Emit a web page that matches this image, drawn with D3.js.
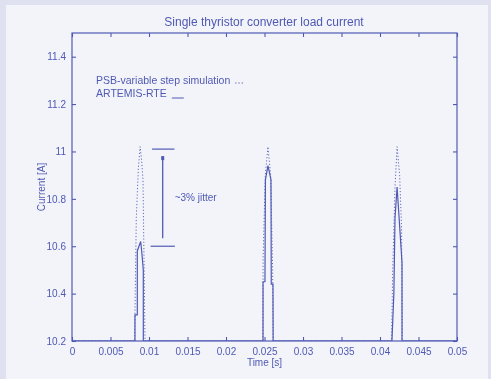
<!DOCTYPE html>
<html>
<head>
<meta charset="utf-8">
<script src="https://cdn.jsdelivr.net/npm/d3@7"></script>
<style>
  html, body { margin: 0; padding: 0; background: #dfe1f0; }
  svg { display: block; }
  text { font-family: "Liberation Sans", Arial, sans-serif; fill: #4f59b3; }
</style>
</head>
<body>
<svg id="chart" width="491" height="379"></svg>
<script>
// Load current of a single thyristor converter: three conduction pulses
const title = "Single thyristor converter load current";
const xLabel = "Time [s]";
const yLabel = "Current [A]";
const xTicks = [0, 0.005, 0.01, 0.015, 0.02, 0.025, 0.03, 0.035, 0.04, 0.045, 0.05];
const xTickLabels = ["0", "0.005", "0.01", "0.015", "0.02", "0.025", "0.03", "0.035", "0.04", "0.045", "0.05"];
const yTicks = [10.2, 10.4, 10.6, 10.8, 11, 11.2, 11.4];
const yTickLabels = ["10.2", "10.4", "10.6", "10.8", "11", "11.2", "11.4"];

// PSB variable-step simulation (dotted)
const psbTime = [0, 0.00812, 0.00818, 0.00835, 0.00862, 0.00885, 0.00905, 0.00922, 0.00935, 0.00948,
                 0.02478, 0.02482, 0.02510, 0.02545, 0.02580, 0.02606, 0.02612,
                 0.04150, 0.04165, 0.04195, 0.04222, 0.04255, 0.04280, 0.04288, 0.05];
const psbCurrent = [10.2, 10.2, 10.32, 10.72, 10.93, 11.02, 10.96, 10.88, 10.55, 10.2,
                    10.2, 10.55, 10.9, 11.02, 10.9, 10.5, 10.2,
                    10.2, 10.5, 10.85, 11.02, 10.9, 10.68, 10.2, 10.2];

// ARTEMIS-RTE real-time simulation (solid)
const rteTime = [0, 0.00818, 0.00818, 0.00848, 0.00848, 0.00892, 0.00905, 0.00926, 0.00926, 0.00930,
                 0.02481, 0.02481, 0.02506, 0.02512, 0.02545, 0.02584, 0.02588, 0.02610, 0.02612,
                 0.04155, 0.04180, 0.04195, 0.04222, 0.04286, 0.04286, 0.04290, 0.05];
const rteCurrent = [10.2, 10.2, 10.31, 10.31, 10.58, 10.62, 10.58, 10.5, 10.2, 10.2,
                    10.2, 10.45, 10.45, 10.88, 10.94, 10.88, 10.44, 10.44, 10.2,
                    10.2, 10.4, 10.72, 10.85, 10.53, 10.2, 10.2, 10.2];

// Annotation: spread between the two peaks of the first pulse
const jitterTop = 11.01, jitterBottom = 10.6, jitterTime = 0.01178;
const jitterSpan = [0.0104, 0.0133];
const jitterText = "~3% jitter";

const legendLabels = ["PSB-variable step simulation", "ARTEMIS-RTE"];

(function draw() {
  const ink = "#4f59b3";
  const font = '"Liberation Sans", Arial, sans-serif';
  const svg = d3.select("#chart");
  const defs = svg.append("defs");
  defs.append("filter").attr("id", "soft")
    .append("feGaussianBlur").attr("stdDeviation", 0.5);

  // light panel behind the figure
  svg.append("rect").attr("x", 6).attr("y", 5).attr("width", 482).attr("height", 374).attr("fill", "#f3f4fa");

  const g = svg.append("g").attr("filter", "url(#soft)");

  const pl = 72, pr = 457, pt = 33, pb = 341;
  const x = d3.scaleLinear().domain([0, 0.05]).range([pl, pr]);
  const y = d3.scaleLinear().domain([10.2, 11.5]).range([pb, pt]);

  // frame
  g.append("rect").attr("x", pl).attr("y", pt).attr("width", pr - pl).attr("height", pb - pt)
    .attr("fill", "none").attr("stroke", ink).attr("stroke-width", 1.2);

  const tickLen = 4;
  const xa = d3.axisBottom(x).tickValues(xTicks).tickSizeInner(-tickLen).tickSizeOuter(0)
    .tickPadding(7).tickFormat((d, i) => xTickLabels[i]);
  const ya = d3.axisLeft(y).tickValues(yTicks).tickSizeInner(-tickLen).tickSizeOuter(0)
    .tickPadding(6).tickFormat((d, i) => yTickLabels[i]);
  const xTop = d3.axisTop(x).tickValues(xTicks).tickSizeInner(-tickLen).tickSizeOuter(0).tickFormat("");
  const yRight = d3.axisRight(y).tickValues(yTicks).tickSizeInner(-tickLen).tickSizeOuter(0).tickFormat("");

  function styleAxis(sel) {
    sel.select(".domain").remove();
    sel.selectAll("line").attr("stroke", ink).attr("stroke-width", 1.1);
    sel.selectAll("text").attr("fill", ink).style("font-size", "10px").style("font-family", font);
  }
  g.append("g").attr("transform", `translate(0,${pb})`).call(xa).call(styleAxis);
  g.append("g").attr("transform", `translate(${pl},0)`).call(ya).call(styleAxis);
  g.append("g").attr("transform", `translate(0,${pt})`).call(xTop).call(styleAxis);
  g.append("g").attr("transform", `translate(${pr},0)`).call(yRight).call(styleAxis);

  // clip the traces to the plotting area
  defs.append("clipPath").attr("id", "plotClip")
    .append("rect").attr("x", pl).attr("y", pt).attr("width", pr - pl).attr("height", pb - pt);

  const line = d3.line().x(d => x(d[0])).y(d => y(d[1]));
  const psb = psbTime.map((t, i) => [t, psbCurrent[i]]);
  const rte = rteTime.map((t, i) => [t, rteCurrent[i]]);

  const traces = g.append("g").attr("clip-path", "url(#plotClip)");
  traces.append("path").datum(psb).attr("d", line).attr("fill", "none")
    .attr("stroke", ink).attr("stroke-width", 0.9).attr("stroke-dasharray", "1.2,2");
  traces.append("path").datum(rte).attr("d", line).attr("fill", "none")
    .attr("stroke", ink).attr("stroke-width", 1.2);

  // jitter annotation
  g.append("line").attr("x1", x(jitterSpan[0])).attr("x2", x(jitterSpan[1]))
    .attr("y1", y(jitterTop)).attr("y2", y(jitterTop)).attr("stroke", ink).attr("stroke-width", 1.2);
  g.append("line").attr("x1", x(jitterSpan[0]) - 1.5).attr("x2", x(jitterSpan[1]) + 0.5)
    .attr("y1", y(jitterBottom)).attr("y2", y(jitterBottom)).attr("stroke", ink).attr("stroke-width", 1.2);
  g.append("line").attr("x1", x(jitterTime)).attr("x2", x(jitterTime))
    .attr("y1", y(jitterTop) + 8).attr("y2", y(jitterBottom) - 8).attr("stroke", ink).attr("stroke-width", 1.3);
  g.append("rect").attr("x", x(jitterTime) - 1.5).attr("y", y(jitterTop) + 7).attr("width", 3).attr("height", 4)
    .attr("fill", ink);
  g.append("text").attr("x", x(jitterTime) + 12).attr("y", (y(jitterTop) + y(jitterBottom)) / 2 + 3)
    .style("font-size", "10px").text(jitterText);

  // legend: label followed by a short sample of the line style
  const legendStyles = [{ dash: "1.2,2", w: 8, dy: -1 }, { dash: null, w: 12, dy: 1 }];
  legendLabels.forEach((label, i) => {
    const ty = 84 + i * 13;
    const t = g.append("text").attr("x", 96).attr("y", ty).style("font-size", "10.5px").text(label);
    const end = 96 + t.node().getComputedTextLength() + 5;
    const s = legendStyles[i];
    g.append("line").attr("x1", end).attr("x2", end + s.w).attr("y1", ty + s.dy).attr("y2", ty + s.dy)
      .attr("stroke", ink).attr("stroke-dasharray", s.dash);
  });

  // titles
  g.append("text").attr("x", 264).attr("y", 26).attr("text-anchor", "middle")
    .style("font-size", "12px").text(title);
  g.append("text").attr("x", (pl + pr) / 2).attr("y", 366).attr("text-anchor", "middle")
    .style("font-size", "10px").text(xLabel);
  g.append("text").attr("transform", `translate(45,${(pt + pb) / 2}) rotate(-90)`)
    .attr("text-anchor", "middle").style("font-size", "10px").text(yLabel);
})();
</script>
</body>
</html>
